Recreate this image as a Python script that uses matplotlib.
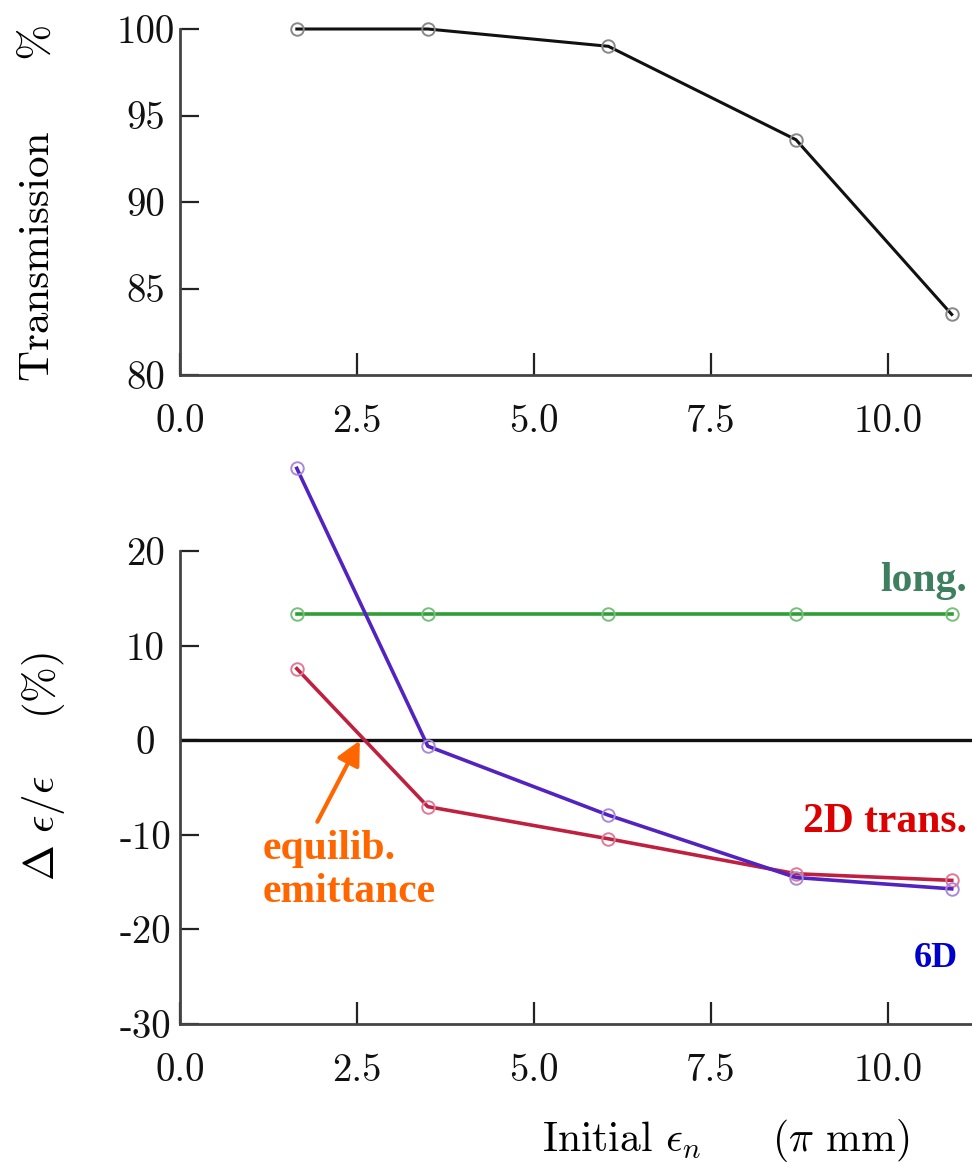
import matplotlib
matplotlib.use("Agg")
import matplotlib.pyplot as plt

plt.rcParams['mathtext.fontset'] = 'cm'
plt.rcParams['axes.unicode_minus'] = False

# initial emittance (pi mm)
eps_init = [1.65, 3.5, 6.05, 8.7, 10.9]
transmission = [100.0, 100.0, 99.0, 93.6, 83.5]

# relative emittance change (%)
d_long = [13.4, 13.4, 13.4, 13.4, 13.4]
d_trans = [7.6, -7.0, -10.4, -14.1, -14.8]
d_6d = [28.8, -0.6, -7.9, -14.5, -15.7]

xticks = [0.0, 2.5, 5.0, 7.5, 10.0]
yticks_top = [80, 85, 90, 95, 100]
yticks_bot = [-30, -20, -10, 0, 10, 20]

cm = 'cmr10'
tick_fs = 28
lab_fs = 31
spine_col = '#444444'

fig = plt.figure(figsize=(9.72, 11.64), dpi=100)
ax1 = fig.add_axes([180/972, 1-375/1164, 792/972, (375-29)/1164])
ax2 = fig.add_axes([180/972, 1-1024/1164, 792/972, (1024-457)/1164])

def style(ax):
    for s in ['top', 'right']:
        ax.spines[s].set_visible(False)
    for s in ['left', 'bottom']:
        ax.spines[s].set_color(spine_col)
        ax.spines[s].set_linewidth(2)
    ax.tick_params(direction='in', colors='#222222', labelcolor='#111111', width=1.6)
    ax.tick_params(axis='x', length=16, pad=21)
    ax.tick_params(axis='y', length=14, pad=25)
    ax.set_xlim(0, 11.186)
    ax.set_xticks(xticks)
    for lab in ax.get_xticklabels() + ax.get_yticklabels():
        lab.set_fontfamily(cm)
        lab.set_fontsize(tick_fs)
    plt.setp(ax.get_yticklabels(), ha='center')

# top: transmission
ax1.plot(eps_init, transmission, color='#111111', lw=2.2, marker='o', ms=9,
         mfc='none', mec='#888888', mew=1.4, clip_on=False)
ax1.set_ylim(80, 100)
ax1.set_yticks(yticks_top)
style(ax1)
ax1.set_ylabel('Transmission     %', fontfamily=cm, fontsize=lab_fs)
ax1.yaxis.set_label_coords(-0.155, 0.5)

# bottom: emittance change
ax2.axhline(0, color='#111111', lw=2.4)
ax2.plot(eps_init, d_long, color='#2f9e35', lw=2.6, marker='o', ms=9,
         mfc='none', mec='#77c07a', mew=1.4, clip_on=False)
ax2.plot(eps_init, d_trans, color='#c0203f', lw=2.6, marker='o', ms=9,
         mfc='none', mec='#e07a95', mew=1.4, clip_on=False)
ax2.plot(eps_init, d_6d, color='#5223c0', lw=2.6, marker='o', ms=9,
         mfc='none', mec='#a88ad8', mew=1.4, clip_on=False)
ax2.set_ylim(-30, 30)
ax2.set_yticks(yticks_bot)
ax2.spines['left'].set_bounds(-30, 20)
style(ax2)
ax2.set_ylabel(r'$\Delta\ \epsilon/\epsilon$    (%)', fontfamily=cm, fontsize=lab_fs)
ax2.yaxis.set_label_coords(-0.143, 0.455)
ax2.set_xlabel(r'Initial $\epsilon_n$     ($\pi$ mm)', fontfamily=cm, fontsize=30)
ax2.xaxis.set_label_coords(0.689, -0.164)

lbl = dict(fontfamily='Liberation Serif', fontweight='bold', va='baseline')
ax2.text(11.12, 15.8, 'long.', color='#3d7f5f', fontsize=30, ha='right', **lbl)
ax2.text(11.12, -9.7, '2D trans.', color='#dd0000', fontsize=30, ha='right', **lbl)
ax2.text(10.98, -24.0, '6D', color='#0000cc', fontsize=26, ha='right', **lbl)
ax2.text(1.17, -12.5, 'equilib.', color='#ff6600', fontsize=30, ha='left', **lbl)
ax2.text(1.17, -17.1, 'emittance', color='#ff6600', fontsize=30, ha='left', **lbl)
ax2.annotate('', xy=(2.54, 0), xytext=(1.94, -8.6),
             arrowprops=dict(arrowstyle='-|>', color='#ff6600', lw=3,
                             mutation_scale=36, shrinkA=0, shrinkB=0))

plt.savefig('out.png', dpi=100)
